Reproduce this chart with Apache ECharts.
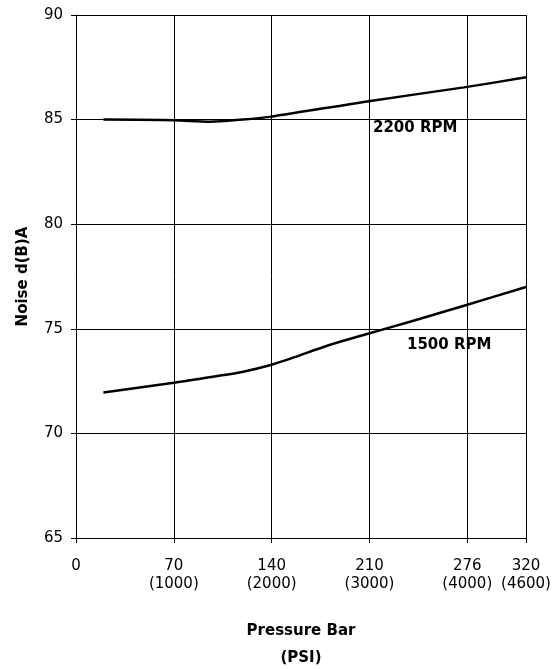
<!DOCTYPE html>
<html>
<head>
<meta charset="utf-8">
<script src="https://cdn.jsdelivr.net/npm/echarts@6/dist/echarts.min.js"></script>
<style>
  html, body { margin: 0; padding: 0; background: #fff; }
  #chart { width: 556px; height: 669px; }
</style>
</head>
<body>
<div id="chart"></div>
<script>
// x positions are in PSI, axis labels show bar and (PSI)
var psiTicks = [0, 1000, 2000, 3000, 4000, 4600]
var tickLabels = ['0', '70\n(1000)', '140\n(2000)', '210\n(3000)', '276\n(4000)', '320\n(4600)']

var rpm2200 = [
  [280, 85.0], [1000, 84.97], [1370, 84.9], [1700, 85.0], [1980, 85.13],
  [2975, 85.87], [3966, 86.54], [4600, 87.02]
]
var rpm1500 = [
  [280, 71.96], [1000, 72.42], [1400, 72.71], [1710, 72.95], [1990, 73.27],
  [2220, 73.62], [2560, 74.18], [2975, 74.75], [3414, 75.34], [3966, 76.1], [4600, 77.0]
]
var seriesNames = ['2200 RPM', '1500 RPM']

var chart = echarts.init(document.getElementById('chart'))
var font = '"DejaVu Sans", sans-serif'

chart.setOption({
  animation: false,
  grid: { left: 76, right: 30, top: 15, bottom: 131, outerBoundsMode: 'none', containLabel: false },
  xAxis: {
    type: 'value',
    min: 0,
    max: 4600,
    interval: 1000,
    name: 'Pressure Bar\n(PSI)',
    nameLocation: 'middle',
    nameGap: 80,
    nameMoveOverlap: false,
    nameTextStyle: { color: '#000', fontFamily: font, fontSize: 15, fontWeight: 'bold', lineHeight: 27 },
    axisLine: { lineStyle: { color: '#000', width: 1 } },
    axisTick: { show: true, length: 5, lineStyle: { color: '#000' } },
    splitLine: { show: true, lineStyle: { color: '#000', width: 1 } },
    axisLabel: {
      color: '#000', fontFamily: font, fontSize: 15, margin: 19, lineHeight: 18,
      showMaxLabel: true,
      formatter: function (v) {
        var i = psiTicks.indexOf(v)
        return i >= 0 ? tickLabels[i] : ''
      }
    }
  },
  yAxis: {
    type: 'value',
    min: 65,
    max: 90,
    interval: 5,
    name: 'Noise d(B)A',
    nameLocation: 'middle',
    nameGap: 45,
    nameMoveOverlap: false,
    nameTextStyle: { color: '#000', fontFamily: font, fontSize: 15, fontWeight: 'bold' },
    axisLine: { show: true, lineStyle: { color: '#000', width: 1 } },
    axisTick: { show: true, length: 5, lineStyle: { color: '#000' } },
    splitLine: { show: true, lineStyle: { color: '#000', width: 1 } },
    axisLabel: { color: '#000', fontFamily: font, fontSize: 15, margin: 13 }
  },
  series: [
    {
      name: seriesNames[0], type: 'line', data: rpm2200, smooth: 0.3,
      symbol: 'none', lineStyle: { color: '#000', width: 2.5 }
    },
    {
      name: seriesNames[1], type: 'line', data: rpm1500, smooth: 0.3,
      symbol: 'none', lineStyle: { color: '#000', width: 2.5 }
    }
  ],
  graphic: [
    {
      type: 'text', left: 373, top: 121,
      style: { text: seriesNames[0], fill: '#000', font: 'bold 15px ' + font }
    },
    {
      type: 'text', left: 407, top: 338,
      style: { text: seriesNames[1], fill: '#000', font: 'bold 15px ' + font }
    }
  ]
})
</script>
</body>
</html>
